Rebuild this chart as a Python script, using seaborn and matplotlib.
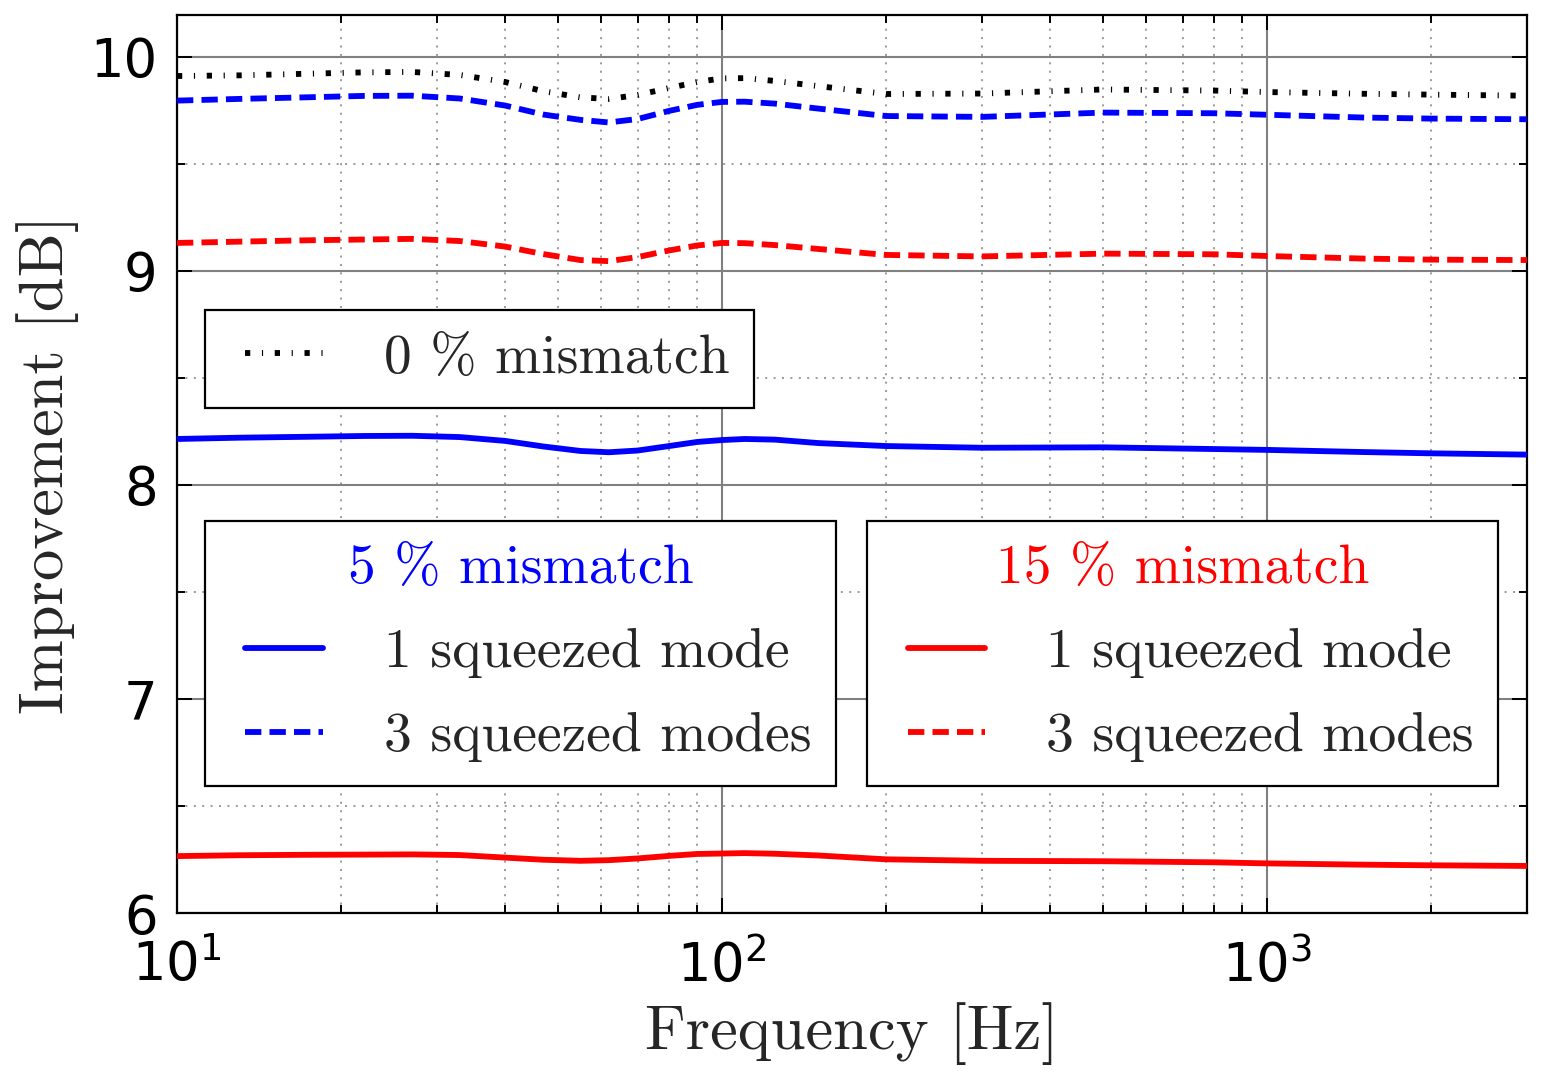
import numpy as np
import pandas as pd
import matplotlib
matplotlib.use("Agg")
import matplotlib.pyplot as plt
from matplotlib.lines import Line2D
from matplotlib.ticker import LogLocator, MultipleLocator, NullFormatter
import seaborn as sns

# ---------------- data ----------------
freq = [10, 13, 17, 22, 27, 33, 40, 47, 55, 62, 70, 80, 90, 100, 110, 125,
        150, 200, 300, 500, 800, 1000, 1500, 2000, 3000]

mm0_all = [9.911, 9.914, 9.921, 9.928, 9.930, 9.916, 9.883, 9.840, 9.811, 9.804,
           9.822, 9.855, 9.883, 9.900, 9.901, 9.888, 9.864, 9.827, 9.829, 9.848,
           9.843, 9.836, 9.828, 9.824, 9.819]
mm5_3modes = [9.796, 9.804, 9.811, 9.818, 9.819, 9.806, 9.773, 9.731, 9.706, 9.694,
              9.710, 9.748, 9.776, 9.790, 9.791, 9.782, 9.759, 9.724, 9.720, 9.740,
              9.737, 9.730, 9.717, 9.712, 9.709]
mm15_3modes = [9.131, 9.137, 9.143, 9.147, 9.150, 9.140, 9.114, 9.079, 9.051, 9.046,
               9.065, 9.096, 9.119, 9.131, 9.130, 9.121, 9.103, 9.075, 9.068, 9.081,
               9.078, 9.070, 9.058, 9.053, 9.051]
mm5_1mode = [8.215, 8.221, 8.225, 8.229, 8.230, 8.224, 8.206, 8.180, 8.159, 8.153,
             8.161, 8.182, 8.201, 8.210, 8.215, 8.212, 8.196, 8.182, 8.174, 8.176,
             8.168, 8.164, 8.154, 8.148, 8.142]
mm15_1mode = [6.266, 6.270, 6.272, 6.273, 6.274, 6.271, 6.259, 6.249, 6.244, 6.247,
              6.255, 6.267, 6.276, 6.278, 6.280, 6.277, 6.269, 6.251, 6.244, 6.242,
              6.237, 6.232, 6.226, 6.223, 6.220]

legend0_label = "0 % mismatch"
legend5_title = "5 % mismatch"
legend15_title = "15 % mismatch"
mode_labels = ["1 squeezed mode", "3 squeezed modes"]

# ---------------- style ----------------
sns.set_style("white")
plt.rcParams["mathtext.fontset"] = "dejavusans"
plt.rcParams["font.family"] = ["DejaVu Sans"]
serif = ["cmr10", "DejaVu Serif"]

fig, ax = plt.subplots(figsize=(15.43, 10.8), dpi=100)
fig.subplots_adjust(left=0.1147, right=0.9896, bottom=0.1546, top=0.9861)

LW = 4.2
dotdash = (0, (0.9, 2.0, 0.2, 2.0))
dashed = (0, (2.8, 1.4))

sns.lineplot(x=freq, y=mm0_all, ax=ax, color="black", lw=LW, linestyle=dotdash, zorder=3)
sns.lineplot(x=freq, y=mm5_3modes, ax=ax, color="blue", lw=LW, linestyle=dashed, zorder=3)
sns.lineplot(x=freq, y=mm15_3modes, ax=ax, color="red", lw=LW, linestyle=dashed, zorder=3)
sns.lineplot(x=freq, y=mm5_1mode, ax=ax, color="blue", lw=LW, linestyle="-", zorder=3)
sns.lineplot(x=freq, y=mm15_1mode, ax=ax, color="red", lw=LW, linestyle="-", zorder=3)

ax.set_xscale("log")
ax.set_xlim(10, 3000)
ax.set_ylim(6, 10.196)
ax.yaxis.set_major_locator(MultipleLocator(1))
ax.yaxis.set_minor_locator(MultipleLocator(0.5))
ax.xaxis.set_major_locator(LogLocator(base=10))
ax.xaxis.set_minor_locator(LogLocator(base=10, subs=np.arange(2, 10)))
ax.xaxis.set_minor_formatter(NullFormatter())

ax.grid(True, which="major", color="#808080", lw=1.5, ls="-", zorder=0)
ax.grid(True, which="minor", color="#808080", lw=1.1, ls=(0, (1.3, 4.2)), zorder=0)
ax.set_axisbelow(True)

for s in ax.spines.values():
    s.set_color("black")
    s.set_linewidth(1.6)
    s.set_visible(True)

ax.tick_params(which="both", direction="in", top=True, right=True,
               bottom=True, left=True, colors="black", width=1.4)
ax.tick_params(which="major", length=11, labelsize=38, pad=14)
ax.tick_params(which="minor", length=5.5)
ax.tick_params(axis="x", which="major", pad=19)

ax.set_xlabel("Frequency [Hz]", fontsize=45, family=serif, labelpad=7)
ax.set_ylabel("Improvement [dB]", fontsize=45, family=serif, labelpad=8)

# ---------------- legends ----------------
FS = 40
common = dict(loc="upper left", borderaxespad=0, fancybox=False, framealpha=1,
              edgecolor="black", numpoints=2, handlelength=2.0,
              handletextpad=0.8, borderpad=0.43, labelspacing=0.61,
              prop={"family": serif, "size": FS})

h0 = [Line2D([], [], color="black", lw=LW, linestyle=dotdash)]
leg0 = ax.legend(h0, [legend0_label], bbox_to_anchor=(0.0207, 0.6715), **common)
leg0.get_frame().set_linewidth(1.6)
ax.add_artist(leg0)

h5 = [Line2D([], [], color="blue", lw=LW, ls="-"),
      Line2D([], [], color="blue", lw=LW, ls=dashed)]
leg5 = ax.legend(h5, mode_labels, title=legend5_title,
                 title_fontproperties={"family": serif, "size": FS},
                 bbox_to_anchor=(0.0207, 0.4365), **common)
leg5.get_title().set_color("blue")
leg5.get_frame().set_linewidth(1.6)
ax.add_artist(leg5)

h15 = [Line2D([], [], color="red", lw=LW, ls="-"),
       Line2D([], [], color="red", lw=LW, ls=dashed)]
leg15 = ax.legend(h15, mode_labels, title=legend15_title,
                  title_fontproperties={"family": serif, "size": FS},
                  bbox_to_anchor=(0.5111, 0.4365), **common)
leg15.get_title().set_color("red")
leg15.get_frame().set_linewidth(1.6)

fig.savefig("out.png", dpi=100)
